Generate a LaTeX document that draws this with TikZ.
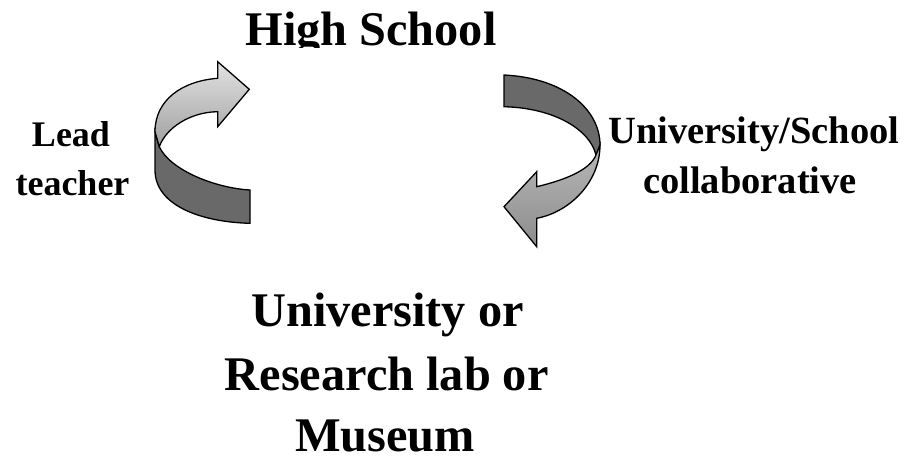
\documentclass[tikz,border=0pt]{standalone}
\usepackage{fontspec}
\setmainfont{Liberation Serif}
\begin{document}
\begin{tikzpicture}[x=1pt,y=1pt,
  ribbon/.style={draw=black,line width=1.3pt,line join=miter},
  backside/.style={ribbon,fill={rgb,255:red,105;green,105;blue,105}},
  bigtext/.style={font=\fontsize{48.3}{58}\selectfont\bfseries,anchor=base,inner sep=0pt},
  smalltext/.style={font=\fontsize{36}{44}\selectfont\bfseries,anchor=base,inner sep=0pt},
  sidetext/.style={font=\fontsize{38.5}{46}\selectfont\bfseries,anchor=base,inner sep=0pt}]
\useasboundingbox (0,0) rectangle (913,-459);

% heading, cut off along its lower edge
\begin{scope}
  \clip (0,0) rectangle (913,-47.7);
  \node[bigtext] (hs) at (371,-45) {High School};
\end{scope}

% left curved arrow: back of the ribbon
\path[backside]
  (159.3,-146.7) .. controls (170,-170) and (215,-188) .. (250,-190)
  -- (250,-223.3) .. controls (200,-222) and (155,-205) .. (155,-170)
  -- (155,-131.7) -- cycle;
% left curved arrow: front of the ribbon with the head
\path[ribbon,top color={rgb,255:red,226;green,226;blue,226},bottom color={rgb,255:red,160;green,160;blue,160}]
  (155,-131.7) .. controls (155,-100) and (182,-81) .. (217.7,-78.3)
  -- (217.7,-61.7) -- (249.3,-89.3) -- (217.7,-126.7) -- (217.7,-111.7)
  .. controls (190,-112) and (166,-128) .. (159.3,-146.7) -- cycle;

% right curved arrow: back of the ribbon
\path[backside]
  (504,-75) .. controls (565,-78) and (600,-110) .. (600,-145)
  -- (596,-155) .. controls (590,-130) and (555,-108) .. (504,-106.7) -- cycle;
% right curved arrow: front of the ribbon with the head
\path[ribbon,top color={rgb,255:red,184;green,184;blue,184},bottom color={rgb,255:red,140;green,140;blue,140}]
  (600,-145) .. controls (600,-182) and (570,-212) .. (536.7,-218.3)
  -- (536.7,-246.7) -- (504,-206.7) -- (536.7,-171.7) -- (536.7,-186.7)
  .. controls (565,-180) and (590,-170) .. (596,-155) -- cycle;

% side labels
\node[smalltext] (lead) at (71,-146.7) {Lead};
\node[smalltext] (teacher) at (72.5,-195) {teacher};
\node[sidetext] (collab1) at (754,-143.3) {University/School};
\node[sidetext] (collab2) at (750,-193.3) {collaborative};

% bottom label
\node[bigtext] (uni) at (387.5,-326.7) {University or};
\node[bigtext] (lab) at (386.7,-390) {Research lab or};
\node[bigtext,text depth=0pt] (mus) at (385,-451.7) {Museum};
\end{tikzpicture}
\end{document}
